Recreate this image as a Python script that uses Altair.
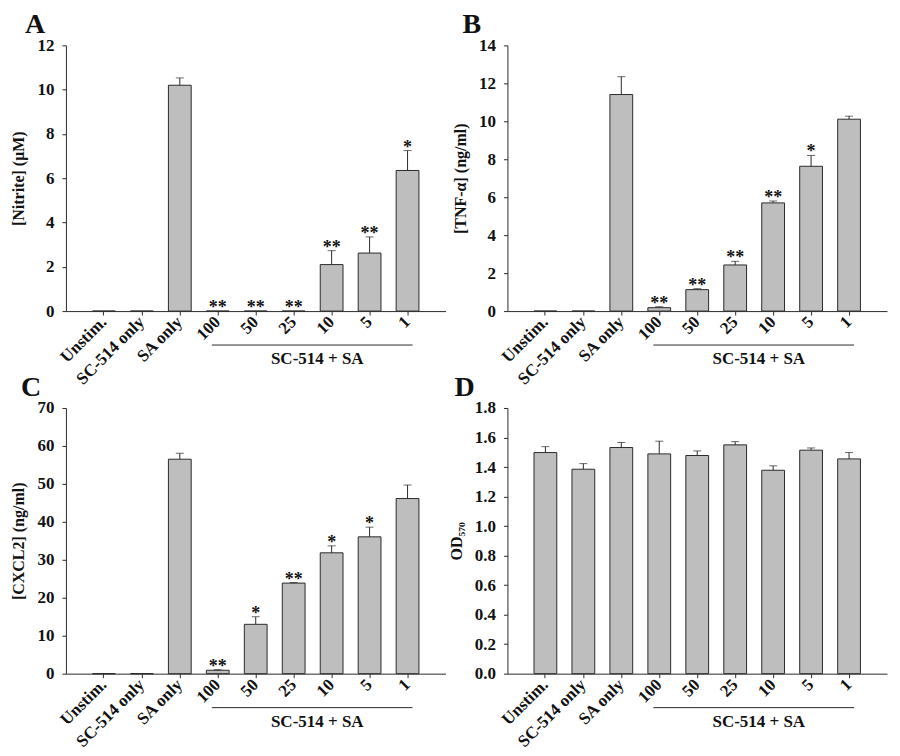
import altair as alt
import pandas as pd

cats = ["Unstim.", "SC-514 only", "SA only", "100", "50", "25", "10", "5", "1"]

nitrite = [0, 0, 10.2, 0, 0, 0, 2.1, 2.62, 6.35]
nitrite_err = [0, 0, 0.33, 0, 0, 0, 0.63, 0.73, 0.9]
nitrite_sig = ["", "", "", "**", "**", "**", "**", "**", "*"]

tnf = [0, 0, 11.41, 0.18, 1.13, 2.43, 5.70, 7.63, 10.11]
tnf_err = [0, 0, 0.94, 0.05, 0.05, 0.19, 0.10, 0.57, 0.16]
tnf_sig = ["", "", "", "**", "**", "**", "**", "*", ""]

cxcl2 = [0, 0, 56.5, 0.9, 13.0, 23.86, 31.84, 36.05, 46.14]
cxcl2_err = [0, 0, 1.57, 0.15, 2.0, 0.15, 1.84, 2.55, 3.56]
cxcl2_sig = ["", "", "", "**", "*", "**", "*", "*", ""]

od = [1.498, 1.385, 1.532, 1.489, 1.478, 1.550, 1.378, 1.514, 1.455]
od_err = [0.040, 0.038, 0.034, 0.086, 0.031, 0.022, 0.030, 0.015, 0.043]
od_sig = ["", "", "", "", "", "", "", "", ""]

group_start = "100"
group_end = "1"
group_mid = "10"
group_label = "SC-514 + SA"

W, H = 380, 266
FONT = "Liberation Serif"
DARK = "#2b2b2b"
FILL = "#bebebe"


def panel(values, errs, sigs, ymax, ystep, ytitle, letter, letter_dx, fmt):
    df = pd.DataFrame({"cat": cats, "value": values, "err": errs, "sig": sigs})
    df["upper"] = df["value"] + df["err"]
    ticks = [round(i * ystep, 4) for i in range(int(round(ymax / ystep)) + 1)]
    xscale = alt.Scale(domain=cats, paddingInner=0.4, paddingOuter=0.7)
    yscale = alt.Scale(domain=[0, ymax], nice=False, zero=True)
    xaxis = alt.Axis(labelAngle=-45, labelPadding=4, labelAlign="right",
                     labelBaseline="middle", grid=False)
    yaxis = alt.Axis(values=ticks, format=fmt, grid=False, labelOverlap=False,
                     tickCount=len(ticks))

    def X(field, **kw):
        return alt.X(field, scale=xscale, title=None, axis=xaxis, **kw)

    def Y(field):
        return alt.Y(field, scale=yscale, title=ytitle, axis=yaxis)

    base = alt.Chart(df)
    bars = base.mark_bar(fill=FILL, stroke=DARK, strokeWidth=1).encode(
        x=X("cat:N"), y=Y("value:Q"))
    errdf = base.transform_filter("datum.err > 0")
    rule = errdf.mark_rule(color=DARK, strokeWidth=1).encode(
        x=X("cat:N"), y=Y("value:Q"), y2="upper:Q")
    cap = errdf.mark_tick(color=DARK, size=8, thickness=1, orient="horizontal").encode(
        x=X("cat:N"), y=Y("upper:Q"))
    stars = base.transform_filter("datum.sig != ''").mark_text(
        font=FONT, fontWeight="bold", fontSize=18, color="#111",
        baseline="alphabetic", dy=2).encode(
        x=X("cat:N"), y=Y("upper:Q"), text="sig:N")
    bdf = pd.DataFrame({"start": [group_start], "end": [group_end],
                        "mid": [group_mid], "label": [group_label]})
    bracket = alt.Chart(bdf).mark_rule(color=DARK, strokeWidth=1).encode(
        x=X("start:N", bandPosition=0.24),
        x2=alt.X2("end:N", bandPosition=0.72),
        y=alt.value(H + 34))
    blabel = alt.Chart(bdf).mark_text(
        font=FONT, fontWeight="bold", fontSize=17, color="#111",
        baseline="middle", align="center", dx=-3).encode(
        x=X("mid:N", bandPosition=0),
        y=alt.value(H + 48), text="label:N")
    return alt.layer(bars, rule, cap, stars, bracket, blabel).properties(
        width=W, height=H,
        title=alt.Title(letter, anchor="start", frame="group", dx=letter_dx,
                        fontSize=28, font=FONT, fontWeight="bold", offset=-3,
                        color="#111"),
    )


pA = panel(nitrite, nitrite_err, nitrite_sig, 12, 2, "[Nitrite] (μM)", "A", -41, "d")
pB = panel(tnf, tnf_err, tnf_sig, 14, 2, "[TNF-α] (ng/ml)", "B", -45, "d")
pC = panel(cxcl2, cxcl2_err, cxcl2_sig, 70, 10, "[CXCL2] (ng/ml)", "C", -45, "d")
pD = panel(od, od_err, od_sig, 1.8, 0.2, "OD₅₇₀", "D", -53, ".1f")

chart = alt.concat(pA, pB, pC, pD, columns=2, spacing={"row": 97, "column": 62},
                   bounds="flush").properties(
    background="white",
    padding={"left": 3, "top": 3, "right": 5, "bottom": 5},
).configure_view(stroke=None).configure_axis(
    grid=False, domainColor=DARK, tickColor=DARK, tickSize=4,
    labelFont=FONT, labelFontWeight="bold", labelFontSize=17, labelColor="#111",
    titleFont=FONT, titleFontWeight="bold", titleFontSize=16, titleColor="#111",
).configure_axisY(labelPadding=8, titlePadding=10)

chart.save("out.html", embed_options={"renderer": "svg", "actions": False})
